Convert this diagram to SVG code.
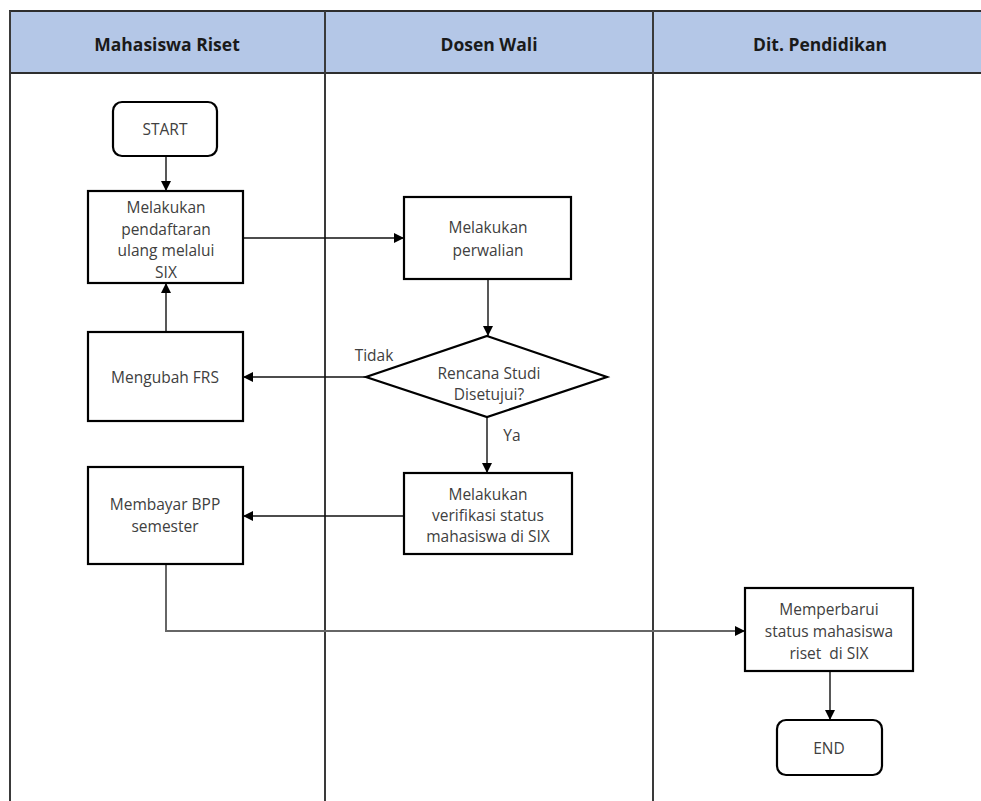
<svg xmlns="http://www.w3.org/2000/svg" width="981" height="801" viewBox="0 0 981 801">
<style>
.lane{stroke:#3a3a3a;stroke-width:2;fill:none}
.hdr{fill:#b4c7e7;stroke:#2e2e2e;stroke-width:2}
.ht{font-family:"Open Sans","Liberation Sans",sans-serif;font-weight:bold;font-size:17.5px;fill:#1a1a1a;text-anchor:middle;dominant-baseline:central}
.box{fill:#fff;stroke:#000;stroke-width:2.2}
.t{font-family:"Open Sans","Liberation Sans",sans-serif;font-size:15.5px;fill:#404040;text-anchor:middle;dominant-baseline:central}
.c{stroke:#111;stroke-width:1.4;fill:none}
.cg{stroke:#666;stroke-width:2;fill:none}
</style>
<defs>
<marker id="ah" viewBox="0 0 10 10" refX="10" refY="5" markerWidth="10" markerHeight="10" markerUnits="userSpaceOnUse" orient="auto">
<path d="M0,0 L10,5 L0,10 z" fill="#000"/>
</marker>
</defs>
<rect width="981" height="801" fill="#fff"/>
<g id="lanes">
<rect class="hdr" x="10" y="11" width="975" height="62"/>
<line class="lane" x1="10" y1="11" x2="10" y2="801"/>
<line class="lane" x1="325" y1="11" x2="325" y2="801"/>
<line class="lane" x1="653" y1="11" x2="653" y2="801"/>
<text class="ht" x="167" y="44">Mahasiswa Riset</text>
<text class="ht" x="489" y="44">Dosen Wali</text>
<text class="ht" x="820" y="44">Dit. Pendidikan</text>
</g>
<g id="connectors">
<line class="c" x1="166" y1="156" x2="166" y2="191" marker-end="url(#ah)"/>
<line class="c" x1="243" y1="238" x2="404" y2="238" marker-end="url(#ah)"/>
<line class="c" x1="488" y1="279" x2="488" y2="336" marker-end="url(#ah)"/>
<line class="c" x1="366" y1="377" x2="243" y2="377" marker-end="url(#ah)"/>
<line class="c" x1="166" y1="332" x2="166" y2="283" marker-end="url(#ah)"/>
<line class="c" x1="487" y1="417" x2="487" y2="473" marker-end="url(#ah)"/>
<line class="c" x1="404" y1="516" x2="243" y2="516" marker-end="url(#ah)"/>
<polyline class="cg" points="166,564 166,631 745,631" marker-end="url(#ah)"/>
<line class="c" x1="830" y1="671" x2="830" y2="720" marker-end="url(#ah)"/>
<text class="t" x="374" y="355">Tidak</text>
<text class="t" x="512" y="435">Ya</text>
</g>
<g id="start">
<rect class="box" x="113" y="102" width="104" height="54" rx="9"/>
<text class="t" x="165" y="129">START</text>
</g>
<g id="daftar">
<rect class="box" x="88" y="191" width="155" height="92"/>
<text class="t" x="166" y="207">Melakukan</text>
<text class="t" x="166" y="228.5">pendaftaran</text>
<text class="t" x="166" y="250">ulang melalui</text>
<text class="t" x="166" y="271.5">SIX</text>
</g>
<g id="perwalian">
<rect class="box" x="404" y="197" width="167" height="82"/>
<text class="t" x="488" y="227">Melakukan</text>
<text class="t" x="488" y="250">perwalian</text>
</g>
<g id="keputusan">
<polygon class="box" points="487,336 607,377 487,417 366,377"/>
<text class="t" x="489" y="373">Rencana Studi</text>
<text class="t" x="489" y="394">Disetujui?</text>
</g>
<g id="ubahfrs">
<rect class="box" x="88" y="332" width="155" height="89"/>
<text class="t" x="165" y="377">Mengubah FRS</text>
</g>
<g id="verifikasi">
<rect class="box" x="404" y="473" width="168" height="81"/>
<text class="t" x="488" y="494">Melakukan</text>
<text class="t" x="488" y="515">verifikasi status</text>
<text class="t" x="488" y="536">mahasiswa di SIX</text>
</g>
<g id="bayar">
<rect class="box" x="88" y="467" width="155" height="97"/>
<text class="t" x="165" y="504">Membayar BPP</text>
<text class="t" x="165" y="526">semester</text>
</g>
<g id="perbarui">
<rect class="box" x="745" y="588" width="168" height="83"/>
<text class="t" x="829" y="609">Memperbarui</text>
<text class="t" x="829" y="631">status mahasiswa</text>
<text class="t" x="829" y="653" style="white-space:pre">riset  di SIX</text>
</g>
<g id="end">
<rect class="box" x="777" y="720" width="105" height="55" rx="9"/>
<text class="t" x="829" y="748">END</text>
</g>
</svg>
